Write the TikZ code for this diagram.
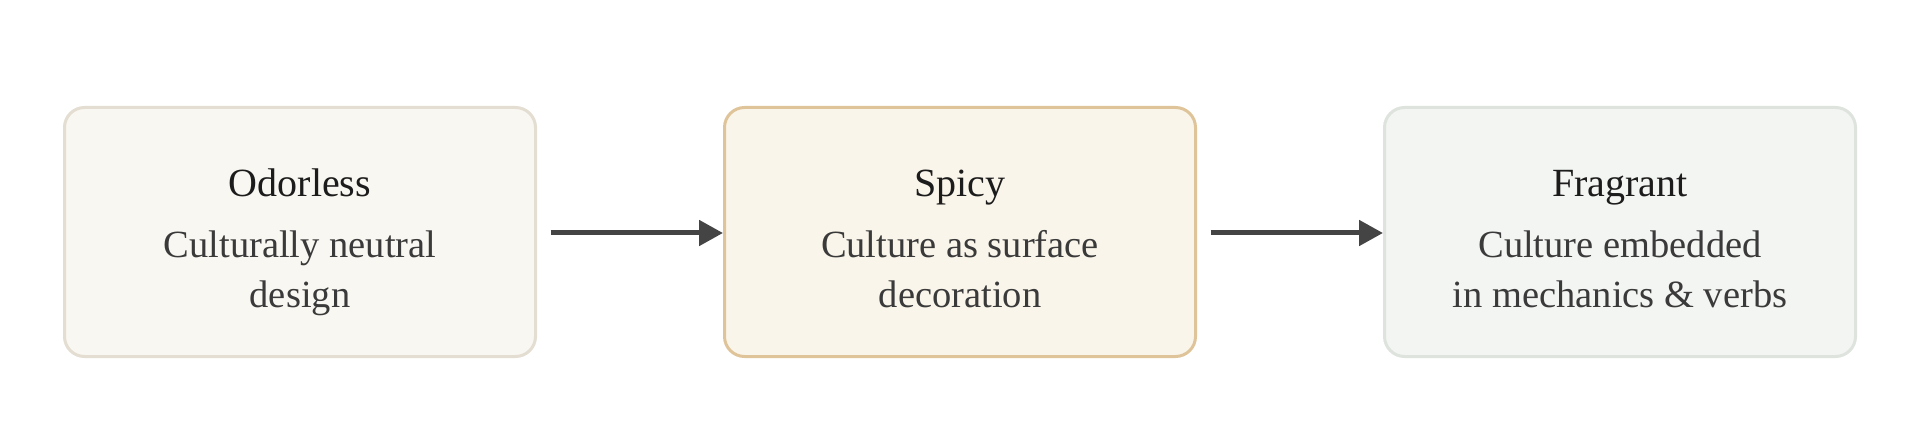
\documentclass[tikz,border=0pt]{standalone}
\usepackage{fontspec}
\setmainfont{Liberation Serif}
\usetikzlibrary{arrows.meta,calc}
\definecolor{fillA}{HTML}{F9F7F1}
\definecolor{drawA}{HTML}{E3DDD2}
\definecolor{fillB}{HTML}{FAF5EA}
\definecolor{drawB}{HTML}{DFC49A}
\definecolor{fillC}{HTML}{F3F5F2}
\definecolor{drawC}{HTML}{DEE3DE}
\definecolor{arrowc}{HTML}{444444}
\definecolor{titlec}{HTML}{1C1C1C}
\definecolor{subc}{HTML}{3A3A3A}
\tikzset{
  box/.style={rectangle, rounded corners=20pt, line width=3pt, minimum width=471pt, minimum height=249pt, inner sep=0pt, outer sep=0pt},
  titletext/.style={anchor=base, inner sep=0pt, text=titlec, font=\fontsize{40}{48}\selectfont},
  subtext/.style={anchor=base, inner sep=0pt, text=subc, font=\fontsize{38.5}{46}\selectfont},
  conn/.style={draw=arrowc, line width=5pt, -{Triangle[length=24pt,width=25pt]}}
}
\begin{document}
\begin{tikzpicture}[x=1pt,y=1pt]
\useasboundingbox (0,0) rectangle (1920,426);
\node[box, fill=fillA, draw=drawA] (b1) at (300,194) {};
\node[box, fill=fillB, draw=drawB] (b2) at (960,194) {};
\node[box, fill=fillC, draw=drawC] (b3) at (1620,194) {};
\node[titletext] (t1) at ($(b1.center)+(0,35)$) {Odorless};
\node[subtext] (s1a) at ($(b1.center)+(0,-26)$) {Culturally neutral};
\node[subtext] (s1b) at ($(b1.center)+(0,-76)$) {design};
\node[titletext] (t2) at ($(b2.center)+(0,35)$) {Spicy};
\node[subtext] (s2a) at ($(b2.center)+(0,-26)$) {Culture as surface};
\node[subtext] (s2b) at ($(b2.center)+(0,-76)$) {decoration};
\node[titletext] (t3) at ($(b3.center)+(0,35)$) {Fragrant};
\node[subtext] (s3a) at ($(b3.center)+(0,-26)$) {Culture embedded};
\node[subtext] (s3b) at ($(b3.center)+(0,-76)$) {in mechanics \& verbs};
\draw[conn, shorten <=15pt] ($(b1.east)+(0,-1)$) -- ($(b2.west)+(-1.5,-1)$);
\draw[conn, shorten <=15pt] ($(b2.east)+(0,-1)$) -- ($(b3.west)+(-1.5,-1)$);
\end{tikzpicture}
\end{document}
